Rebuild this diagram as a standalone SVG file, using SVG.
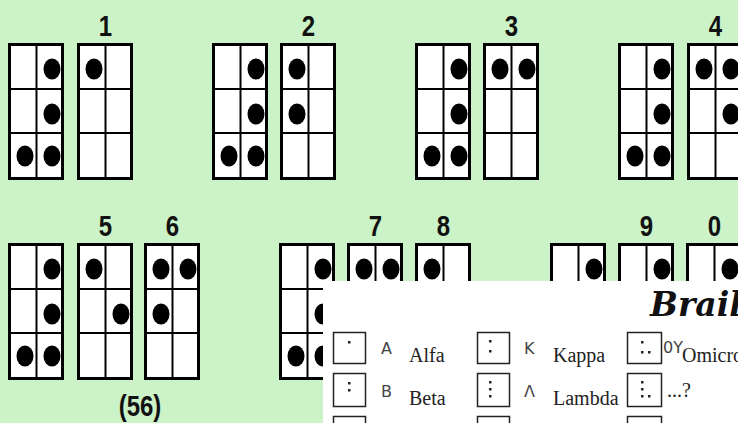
<svg xmlns="http://www.w3.org/2000/svg" xmlns:xlink="http://www.w3.org/1999/xlink" width="738" height="423" viewBox="0 0 738 423">
<style>
.bg{fill:#ccf2c8}
.frame{fill:#fff;stroke:#000;stroke-width:3}
.grid{stroke:#000;stroke-width:2}
.dot{fill:#000}
.num{font-family:"Liberation Sans",Arial,sans-serif;font-weight:bold;font-size:30px;fill:#111;text-anchor:middle}
.box{fill:#fff;stroke:#222;stroke-width:1.5}
.bd{fill:#222}
.let{font-family:"DejaVu Sans","Liberation Sans",sans-serif;font-size:16px;fill:#444}
.name{font-family:"Liberation Serif","Times New Roman",serif;font-size:20px;fill:#222}
.title{font-family:"DejaVu Serif","Liberation Serif",serif;font-style:italic;font-weight:bold;font-size:33px;fill:#111}
</style>
<defs>
<g id="cellbase">
<rect class="frame" x="1.5" y="1.5" width="53" height="134"/>
<line class="grid" x1="28.5" y1="1.5" x2="28.5" y2="135.5"/>
<line class="grid" x1="1.5" y1="46" x2="54.5" y2="46"/>
<line class="grid" x1="1.5" y1="90" x2="54.5" y2="90"/>
</g>
<ellipse id="d00" class="dot" cx="17" cy="26" rx="8.5" ry="10.5"/>
<ellipse id="d10" class="dot" cx="44" cy="26" rx="8.5" ry="10.5"/>
<ellipse id="d01" class="dot" cx="17" cy="71" rx="8.5" ry="10.5"/>
<ellipse id="d11" class="dot" cx="44" cy="71" rx="8.5" ry="10.5"/>
<ellipse id="d02" class="dot" cx="17" cy="113" rx="8.5" ry="10.5"/>
<ellipse id="d12" class="dot" cx="44" cy="113" rx="8.5" ry="10.5"/>
<g id="numsign">
<use href="#cellbase"/><use href="#d10"/><use href="#d11"/><use href="#d02"/><use href="#d12"/>
</g>
</defs>
<rect class="bg" x="0" y="0" width="738" height="423"/>

<!-- Row 1 -->
<g id="digit1">
<g transform="translate(8,43)"><use href="#numsign"/></g>
<g transform="translate(77,43)"><use href="#cellbase"/><use href="#d00"/></g>
<text class="num" transform="translate(105.5,36) scale(0.8,1)">1</text>
</g>
<g id="digit2">
<g transform="translate(212,43)"><use href="#numsign"/></g>
<g transform="translate(280,43)"><use href="#cellbase"/><use href="#d00"/><use href="#d01"/></g>
<text class="num" transform="translate(308.5,36) scale(0.8,1)">2</text>
</g>
<g id="digit3">
<g transform="translate(415,43)"><use href="#numsign"/></g>
<g transform="translate(483,43)"><use href="#cellbase"/><use href="#d00"/><use href="#d10"/></g>
<text class="num" transform="translate(511.5,36) scale(0.8,1)">3</text>
</g>
<g id="digit4">
<g transform="translate(618,43)"><use href="#numsign"/></g>
<g transform="translate(687,43)"><use href="#cellbase"/><use href="#d00"/><use href="#d10"/><use href="#d11"/></g>
<text class="num" transform="translate(715.5,36) scale(0.8,1)">4</text>
</g>

<!-- Row 2 -->
<g id="digits56">
<g transform="translate(8,243)"><use href="#numsign"/></g>
<g transform="translate(77,243)"><use href="#cellbase"/><use href="#d00"/><use href="#d11"/></g>
<g transform="translate(144,243)"><use href="#cellbase"/><use href="#d00"/><use href="#d10"/><use href="#d01"/></g>
<text class="num" transform="translate(105.5,236) scale(0.8,1)">5</text>
<text class="num" transform="translate(172.5,236) scale(0.8,1)">6</text>
<text class="num" transform="translate(140,416) scale(0.8,1)">(56)</text>
</g>
<g id="digits78">
<g transform="translate(279,243)"><use href="#numsign"/></g>
<g transform="translate(347,243)"><use href="#cellbase"/><use href="#d00"/><use href="#d10"/></g>
<g transform="translate(415,243)"><use href="#cellbase"/><use href="#d00"/></g>
<text class="num" transform="translate(375.5,236) scale(0.8,1)">7</text>
<text class="num" transform="translate(443.5,236) scale(0.8,1)">8</text>
</g>
<g id="digits90">
<g transform="translate(550,243)"><use href="#numsign"/></g>
<g transform="translate(618,243)"><use href="#cellbase"/><use href="#d10"/></g>
<g transform="translate(686,243)"><use href="#cellbase"/><use href="#d10"/></g>
<text class="num" transform="translate(646.5,236) scale(0.8,1)">9</text>
<text class="num" transform="translate(714.5,236) scale(0.8,1)">0</text>
</g>

<!-- Overlay panel: Greek Braille table -->
<g id="panel">
<rect x="323" y="281" width="415" height="142" fill="#fff"/>
<text class="title" x="650" y="316">Braille</text>

<g id="rowA">
<rect class="box" x="333.5" y="332.5" width="32" height="31"/>
<rect class="bd" x="348" y="341" width="2.5" height="2.5"/>
<text class="let" x="381" y="354">A</text>
<text class="name" x="409" y="362">Alfa</text>
</g>
<g id="rowK">
<rect class="box" x="477.5" y="332.5" width="32" height="31"/>
<rect class="bd" x="489" y="340" width="2.5" height="2.5"/>
<rect class="bd" x="489" y="350" width="2.5" height="2.5"/>
<text class="let" x="524" y="354">K</text>
<text class="name" x="553" y="362">Kappa</text>
</g>
<g id="rowOY">
<rect class="box" x="627.5" y="332.5" width="34" height="31"/>
<rect class="bd" x="641" y="341" width="2.5" height="2.5"/>
<rect class="bd" x="641" y="351" width="2.5" height="2.5"/>
<rect class="bd" x="648" y="351" width="2.5" height="2.5"/>
<text class="let" x="663" y="353" font-size="13">0Y</text>
<text class="name" x="682" y="362">Omicron</text>
</g>
<g id="rowB">
<rect class="box" x="333.5" y="373.5" width="32" height="33"/>
<rect class="bd" x="348" y="382" width="2.5" height="2.5"/>
<rect class="bd" x="348" y="389" width="2.5" height="2.5"/>
<text class="let" x="381" y="397">B</text>
<text class="name" x="409" y="405">Beta</text>
</g>
<g id="rowL">
<rect class="box" x="477.5" y="373.5" width="32" height="33"/>
<rect class="bd" x="489" y="381" width="2.5" height="2.5"/>
<rect class="bd" x="489" y="388" width="2.5" height="2.5"/>
<rect class="bd" x="489" y="395" width="2.5" height="2.5"/>
<text class="let" x="524" y="397">Λ</text>
<text class="name" x="553" y="405">Lambda</text>
</g>
<g id="rowQ">
<rect class="box" x="627.5" y="373.5" width="34" height="33"/>
<rect class="bd" x="641" y="381" width="2.5" height="2.5"/>
<rect class="bd" x="641" y="388" width="2.5" height="2.5"/>
<rect class="bd" x="641" y="395" width="2.5" height="2.5"/>
<rect class="bd" x="648" y="395" width="2.5" height="2.5"/>
<text class="name" x="667" y="397">...?</text>
</g>
<g id="row3">
<path d="M333.5 423V416.5H365.5V423M477.5 423V416.5H509.5V423M627.5 423V416.5H661.5V423" fill="none" stroke="#222" stroke-width="1.5"/>
</g>
</g>
</svg>
